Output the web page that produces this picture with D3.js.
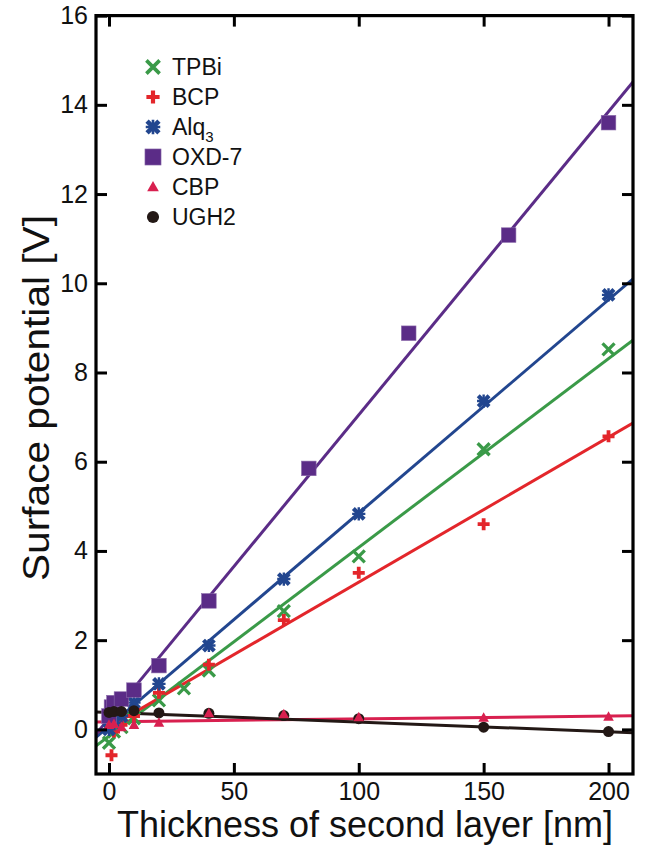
<!DOCTYPE html>
<html>
<head>
<meta charset="utf-8">
<script src="https://cdn.jsdelivr.net/npm/d3@7"></script>
<style>
  html, body { margin: 0; padding: 0; background: #fff; }
  svg { display: block; }
  text { font-family: "Liberation Sans", Arial, Helvetica, sans-serif; fill: #111; }
</style>
</head>
<body>
<svg id="chart" width="652" height="848"></svg>
<script>
// ---- data ----
const seriesNames = ["TPBi", "BCP", "Alq3", "OXD-7", "CBP", "UGH2"];
const seriesColors = ["#3a9a48", "#e3262b", "#22468f", "#5b2c87", "#d8204f", "#231815"];

const tpbiX = [0, 2, 5, 10, 20, 30, 40, 70, 100, 150, 200];
const tpbiY = [-0.3, -0.05, 0.05, 0.25, 0.65, 0.92, 1.32, 2.65, 3.88, 6.28, 8.52];

const bcpX = [1, 2, 5, 10, 20, 40, 70, 100, 150, 200];
const bcpY = [-0.58, -0.05, 0.1, 0.3, 0.82, 1.45, 2.45, 3.51, 4.6, 6.57];

const alqX = [0, 2, 5, 10, 20, 40, 70, 100, 150, 200];
const alqY = [0.0, 0.15, 0.3, 0.6, 1.02, 1.88, 3.37, 4.83, 7.36, 9.74];

const oxdX = [0, 1, 2, 5, 10, 20, 40, 80, 120, 160, 200];
const oxdY = [0.3, 0.5, 0.6, 0.68, 0.88, 1.43, 2.88, 5.85, 8.88, 11.08, 13.6];

const cbpX = [0, 2, 5, 10, 20, 40, 70, 100, 150, 200];
const cbpY = [0.1, 0.12, 0.05, 0.1, 0.15, 0.36, 0.34, 0.27, 0.26, 0.28];

const ughX = [0, 2, 5, 10, 20, 40, 70, 100, 150, 200];
const ughY = [0.38, 0.4, 0.4, 0.42, 0.37, 0.36, 0.31, 0.24, 0.05, -0.05];

// linear fits (intercept, slope) per series
const fitIntercept = [-0.15, 0.05, 0.07, 0.25, 0.17, 0.38];
const fitSlope = [0.0423, 0.0325, 0.0478, 0.068, 0.00065, -0.00216];

const xTicks = [0, 50, 100, 150, 200];
const yTicks = [0, 2, 4, 6, 8, 10, 12, 14, 16];
const xDomain = [-5.2, 209.8];
const yDomain = [-1, 16];

// ---- layout ----
const svg = d3.select("#chart");
const L = 96, R = 633, T = 15.6, B = 774;
const x = d3.scaleLinear().domain(xDomain).range([L, R]);
const y = d3.scaleLinear().domain(yDomain).range([B, T]);

const allX = [tpbiX, bcpX, alqX, oxdX, cbpX, ughX];
const allY = [tpbiY, bcpY, alqY, oxdY, cbpY, ughY];
const series = seriesNames.map((n, i) => ({
  name: n, color: seriesColors[i],
  pts: allX[i].map((v, j) => ({ x: v, y: allY[i][j] })),
  a: fitIntercept[i], b: fitSlope[i]
}));

svg.append("defs").append("clipPath").attr("id", "clip")
  .append("rect").attr("x", L).attr("y", T).attr("width", R - L).attr("height", B - T);

const plot = svg.append("g").attr("clip-path", "url(#clip)");

// fit lines
const line = d3.line().x(d => x(d[0])).y(d => y(d[1]));
series.forEach(s => {
  const xs = [xDomain[0] - 2, xDomain[1] + 2];
  plot.append("path")
    .attr("d", line(xs.map(v => [v, s.a + s.b * v])))
    .attr("fill", "none").attr("stroke", s.color).attr("stroke-width", 3);
});

// marker drawing
function drawMarker(g, type, cx, cy, color, scale) {
  const k = scale || 1;
  if (type === "TPBi") {
    const h = 6 * k;
    g.append("path").attr("d", `M${cx - h},${cy - h}L${cx + h},${cy + h}M${cx - h},${cy + h}L${cx + h},${cy - h}`)
      .attr("stroke", color).attr("stroke-width", 3.3 * k).attr("fill", "none");
  } else if (type === "BCP") {
    const h = 6 * k;
    g.append("path").attr("d", `M${cx - h},${cy}L${cx + h},${cy}M${cx},${cy - h}L${cx},${cy + h}`)
      .attr("stroke", color).attr("stroke-width", 3.8 * k).attr("fill", "none");
  } else if (type === "Alq3") {
    const h = 5.4 * k, p = 6.6 * k;
    g.append("path").attr("d", `M${cx - h},${cy - h}L${cx + h},${cy + h}M${cx - h},${cy + h}L${cx + h},${cy - h}`)
      .attr("stroke", color).attr("stroke-width", 4.2 * k).attr("fill", "none");
    g.append("path").attr("d", `M${cx - p},${cy}L${cx + p},${cy}M${cx},${cy - p}L${cx},${cy + p}`)
      .attr("stroke", color).attr("stroke-width", 2.4 * k).attr("fill", "none");
  } else if (type === "OXD-7") {
    const h = 7.3 * k;
    g.append("rect").attr("x", cx - h).attr("y", cy - h).attr("width", 2 * h).attr("height", 2 * h)
      .attr("fill", color).attr("stroke", "#8a6aaa").attr("stroke-width", 0.6);
  } else if (type === "CBP") {
    const h = 5.3 * k;
    g.append("path").attr("d", `M${cx},${cy - h * 1.05}L${cx + h},${cy + h * 0.75}L${cx - h},${cy + h * 0.75}Z`)
      .attr("fill", color);
  } else if (type === "UGH2") {
    g.append("circle").attr("cx", cx).attr("cy", cy).attr("r", 5.5 * k).attr("fill", color);
  }
}

// markers (order chosen so triangles sit on circles)
const order = [0, 1, 2, 3, 5, 4];
order.forEach(i => {
  const s = series[i];
  const g = plot.append("g");
  s.pts.forEach(p => drawMarker(g, s.name, x(p.x), y(p.y), s.color, 1));
});

// frame
svg.append("rect").attr("x", L).attr("y", T).attr("width", R - L).attr("height", B - T)
  .attr("fill", "none").attr("stroke", "#000").attr("stroke-width", 3.2);

// axes with inward ticks on all four sides
const tickLen = 11;
const axB = svg.append("g").attr("transform", `translate(0,${B})`)
  .call(d3.axisBottom(x).tickValues(xTicks).tickSize(-tickLen).tickPadding(8));
const axT = svg.append("g").attr("transform", `translate(0,${T})`)
  .call(d3.axisTop(x).tickValues(xTicks).tickSize(-tickLen).tickFormat(""));
const axL = svg.append("g").attr("transform", `translate(${L},0)`)
  .call(d3.axisLeft(y).tickValues(yTicks).tickSize(-tickLen).tickPadding(8));
const axR = svg.append("g").attr("transform", `translate(${R},0)`)
  .call(d3.axisRight(y).tickValues(yTicks).tickSize(-tickLen).tickFormat(""));
[axB, axT, axL, axR].forEach(a => {
  a.select(".domain").remove();
  a.selectAll(".tick line").attr("stroke", "#000").attr("stroke-width", 3);
  a.selectAll(".tick text").attr("font-size", 25).attr("fill", "#111")
    .style("font-family", '"Liberation Sans", Arial, sans-serif');
});

// axis titles
svg.append("text").attr("x", 365).attr("y", 837).attr("text-anchor", "middle")
  .attr("font-size", 36).text("Thickness of second layer [nm]");
svg.append("text").attr("transform", "translate(49,398) rotate(-90)").attr("text-anchor", "middle")
  .attr("font-size", 36).attr("textLength", 366).attr("lengthAdjust", "spacingAndGlyphs")
  .text("Surface potential [V]");

// legend
const legX = 153, legTextX = 172, legY0 = 67, legDy = 30;
series.forEach((s, i) => {
  const cy = legY0 + i * legDy;
  const g = svg.append("g");
  drawMarker(g, s.name, legX, cy, s.color, 1.1);
  const t = svg.append("text").attr("x", legTextX).attr("y", cy + 8).attr("font-size", 23);
  if (s.name === "Alq3") {
    t.append("tspan").text("Alq");
    t.append("tspan").attr("dy", 7).attr("font-size", 15).text("3");
  } else {
    t.text(s.name);
  }
});
</script>
</body>
</html>
